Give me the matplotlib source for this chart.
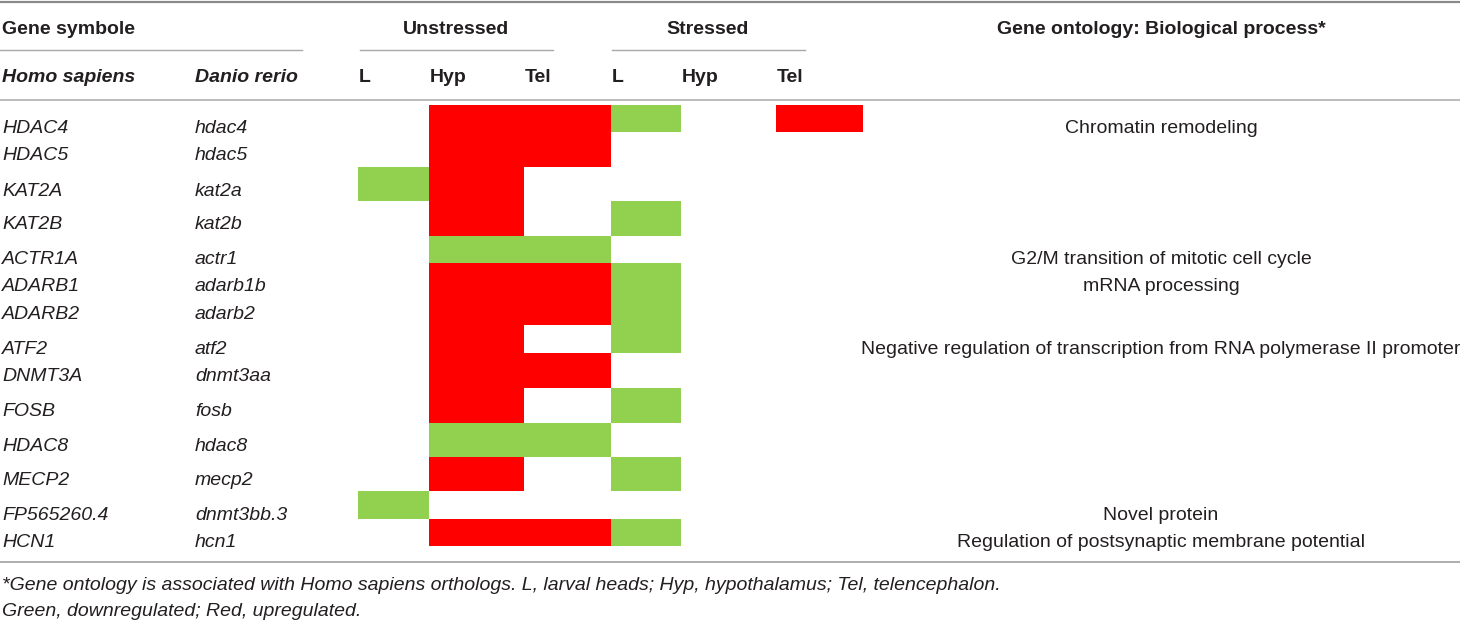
import matplotlib
matplotlib.use("Agg")
import matplotlib.pyplot as plt
from matplotlib.patches import Rectangle

# ---------------- data ----------------
human_genes = ["HDAC4", "HDAC5", "KAT2A", "KAT2B", "ACTR1A", "ADARB1", "ADARB2",
               "ATF2", "DNMT3A", "FOSB", "HDAC8", "MECP2", "FP565260.4", "HCN1"]
zebrafish_genes = ["hdac4", "hdac5", "kat2a", "kat2b", "actr1", "adarb1b", "adarb2",
                   "atf2", "dnmt3aa", "fosb", "hdac8", "mecp2", "dnmt3bb.3", "hcn1"]
conditions = ["Unstressed", "Stressed"]
tissues = ["L", "Hyp", "Tel", "L", "Hyp", "Tel"]
# 1 = upregulated (red), -1 = downregulated (green), 0 = no change
regulation = [
    [0, 1, 1, -1, 0, 1],    # HDAC4
    [0, 1, 1, 0, 0, 0],     # HDAC5
    [-1, 1, 0, 0, 0, 0],    # KAT2A
    [0, 1, 0, -1, 0, 0],    # KAT2B
    [0, -1, -1, 0, 0, 0],   # ACTR1A
    [0, 1, 1, -1, 0, 0],    # ADARB1
    [0, 1, 1, -1, 0, 0],    # ADARB2
    [0, 1, 0, -1, 0, 0],    # ATF2
    [0, 1, 1, 0, 0, 0],     # DNMT3A
    [0, 1, 0, -1, 0, 0],    # FOSB
    [0, -1, -1, 0, 0, 0],   # HDAC8
    [0, 1, 0, -1, 0, 0],    # MECP2
    [-1, 0, 0, 0, 0, 0],    # FP565260.4
    [0, 1, 1, -1, 0, 0],    # HCN1
]
go_terms = ["Chromatin remodeling", "", "", "", "G2/M transition of mitotic cell cycle",
            "mRNA processing", "",
            "Negative regulation of transcription from RNA polymerase II promoter",
            "", "", "", "", "Novel protein", "Regulation of postsynaptic membrane potential"]
header_gene = "Gene symbole"
header_species = ["Homo sapiens", "Danio rerio"]
header_go = "Gene ontology: Biological process*"
footnotes = ["*Gene ontology is associated with Homo sapiens orthologs. L, larval heads; "
             "Hyp, hypothalamus; Tel, telencephalon.",
             "Green, downregulated; Red, upregulated."]

# ---------------- layout (pixel space) ----------------
W, H = 1460, 620
col_edges = [358, 429, 524, 611, 681, 776, 863]
cell_edges = [105, 132, 167, 201, 236, 263, 294, 325, 353, 388, 423, 457, 491, 519, 546]
text_y = [126, 153, 189, 222, 257, 284, 312, 347, 374, 409, 444, 478, 513, 540]
RED, GREEN = "#FF0000", "#92D050"
TXT = "#231F20"
FONT = "Liberation Sans"
FS = 14.0
BASE = 7  # baseline offset from visual centre of capitals (px)

fig = plt.figure(figsize=(W / 100, H / 100), dpi=100)
ax = fig.add_axes([0, 0, 1, 1])
ax.set_xlim(0, W)
ax.set_ylim(H, 0)
ax.axis("off")


def put(x, y, s, **kw):
    ax.text(x, y + BASE, s, fontsize=FS, family=FONT, color=TXT, va="baseline", **kw)


# rules
ax.plot([0, W], [2, 2], color="#8a8a8a", lw=1.6)
ax.plot([0, 302], [50, 50], color="#a8a8a8", lw=1.0)
ax.plot([360, 553], [50, 50], color="#a8a8a8", lw=1.0)
ax.plot([612, 805], [50, 50], color="#a8a8a8", lw=1.0)
ax.plot([0, W], [100, 100], color="#b0b0b0", lw=1.2)
ax.plot([0, W], [562, 562], color="#a0a0a0", lw=1.2)

# header texts
put(2, 27, header_gene, fontweight="bold")
put(456, 27, conditions[0], fontweight="bold", ha="center")
put(708, 27, conditions[1], fontweight="bold", ha="center")
put(1161, 27, header_go, fontweight="bold", ha="center")
put(2, 75, header_species[0], fontweight="bold", style="italic")
put(195, 75, header_species[1], fontweight="bold", style="italic")
for i, t in enumerate(tissues):
    put(col_edges[i] + 1, 75, t, fontweight="bold")

# cells
for r, row in enumerate(regulation):
    for c, v in enumerate(row):
        if v == 0:
            continue
        color = RED if v > 0 else GREEN
        ax.add_patch(Rectangle((col_edges[c], cell_edges[r]),
                               col_edges[c + 1] - col_edges[c],
                               cell_edges[r + 1] - cell_edges[r],
                               facecolor=color, edgecolor="none"))

# row texts
for r in range(len(human_genes)):
    y = text_y[r]
    put(2, y, human_genes[r], style="italic")
    put(195, y, zebrafish_genes[r], style="italic")
    if go_terms[r]:
        put(1161, y, go_terms[r], ha="center")

# footnotes
put(2, 583, footnotes[0], style="italic")
put(2, 609, footnotes[1], style="italic")

fig.savefig("out.png", dpi=100, facecolor="white")
